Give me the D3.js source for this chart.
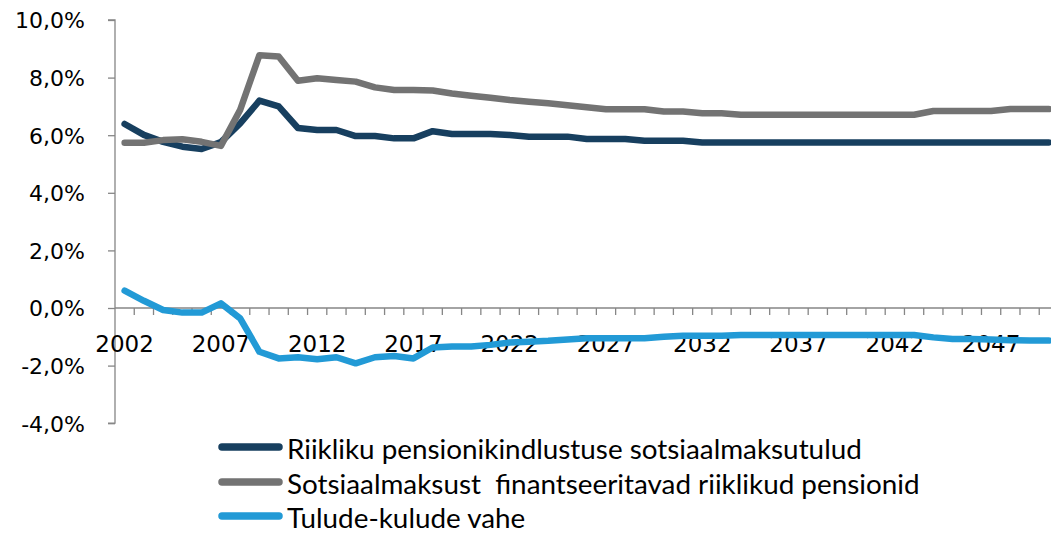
<!DOCTYPE html>
<html>
<head>
<meta charset="utf-8">
<script src="https://cdn.jsdelivr.net/npm/d3@7"></script>
<style>
  html, body { margin: 0; padding: 0; background: #fff; }
  svg { display: block; }
</style>
</head>
<body>
<svg id="chart" width="1051" height="537"></svg>
<script>
// ---- data ----
const years = d3.range(2002, 2051).map(String);
const tickYears = ["2002","2007","2012","2017","2022","2027","2032","2037","2042","2047"];
const yTicks = [-4, -2, 0, 2, 4, 6, 8, 10];

const seriesNames = [
  "Riikliku pensionikindlustuse sotsiaalmaksutulud",
  "Sotsiaalmaksust  finantseeritavad riiklikud pensionid",
  "Tulude-kulude vahe"
];
const seriesColors = ["#173f5f", "#737373", "#229ad6"];

const revenue = [
  6.39, 6.01, 5.77, 5.60, 5.52, 5.76, 6.41, 7.20, 7.00, 6.25,
  6.18, 6.18, 5.97, 5.97, 5.89, 5.89, 6.14, 6.04, 6.04, 6.04,
  6.01, 5.95, 5.95, 5.95, 5.87, 5.87, 5.87, 5.81, 5.81, 5.81,
  5.75, 5.75, 5.75, 5.75, 5.75, 5.75, 5.75, 5.75, 5.75, 5.75,
  5.75, 5.75, 5.75, 5.75, 5.75, 5.75, 5.75, 5.75, 5.75
];
const pensions = [
  5.74, 5.74, 5.83, 5.86, 5.77, 5.63, 6.88, 8.78, 8.73, 7.89,
  7.98, 7.92, 7.86, 7.66, 7.57, 7.57, 7.55, 7.45, 7.37, 7.30,
  7.22, 7.16, 7.11, 7.04, 6.97, 6.90, 6.90, 6.90, 6.82, 6.82,
  6.76, 6.76, 6.71, 6.71, 6.71, 6.71, 6.71, 6.71, 6.71, 6.71,
  6.71, 6.71, 6.84, 6.84, 6.84, 6.84, 6.91, 6.91, 6.91
];
const balance = [
  0.60, 0.25, -0.07, -0.16, -0.16, 0.16, -0.36, -1.52, -1.75, -1.71,
  -1.78, -1.71, -1.92, -1.71, -1.67, -1.75, -1.37, -1.34, -1.34, -1.28,
  -1.20, -1.17, -1.14, -1.09, -1.05, -1.05, -1.05, -1.05, -1.00, -0.96,
  -0.96, -0.96, -0.94, -0.94, -0.94, -0.94, -0.94, -0.94, -0.94, -0.94,
  -0.94, -0.94, -1.02, -1.08, -1.08, -1.09, -1.12, -1.13, -1.13
];
const seriesValues = [revenue, pensions, balance];

// ---- layout ----
const svg = d3.select("#chart");
const axisColor = "#868686";
const bandW = 19.255;
const x0 = 115;
const x = d3.scaleBand().domain(years).range([x0, x0 + bandW * years.length]).paddingInner(0).paddingOuter(0);
const y = d3.scaleLinear().domain([-4, 10]).range([423.2, 20]);
const fmt = v => d3.format(".1f")(v).replace("\u2212", "-").replace(".", ",") + "%";

// y axis
const yAxis = d3.axisLeft(y).tickValues(yTicks).tickSize(7).tickFormat(fmt);
const gy = svg.append("g").attr("transform", `translate(${x0},0)`).call(yAxis);
gy.select(".domain").attr("stroke", axisColor).attr("stroke-width", 1.3).attr("d", `M-7,${y(10)}H0V${y(-4)}H-7`);
gy.selectAll(".tick line").attr("stroke", axisColor).attr("stroke-width", 1.3);
gy.selectAll(".tick text")
  .attr("x", -30)
  .attr("dy", "0.36em")
  .attr("fill", "#000")
  .style("font-family", "'DejaVu Sans', Verdana, sans-serif")
  .style("font-size", "22px");

// x axis at 0%
const gx = svg.append("g").attr("transform", `translate(0,${y(0)})`);
gx.append("line").attr("x1", x0).attr("x2", 1051).attr("y1", 0).attr("y2", 0)
  .attr("stroke", axisColor).attr("stroke-width", 1.3);
gx.selectAll("line.tk").data(years.slice(1)).enter().append("line")
  .attr("class", "tk")
  .attr("x1", d => x(d)).attr("x2", d => x(d))
  .attr("y1", 0).attr("y2", 7)
  .attr("stroke", axisColor).attr("stroke-width", 1.3);
gx.selectAll("text").data(tickYears).enter().append("text")
  .attr("x", d => x(d) + x.bandwidth() / 2)
  .attr("y", 44)
  .attr("text-anchor", "middle")
  .attr("fill", "#000")
  .style("font-family", "'DejaVu Sans', Verdana, sans-serif")
  .style("font-size", "23px")
  .text(d => d);

// lines
const line = d3.line()
  .x((d, i) => x(years[i]) + x.bandwidth() / 2)
  .y(d => y(d));
seriesValues.forEach((vals, k) => {
  svg.append("path")
    .datum(vals)
    .attr("d", line)
    .attr("fill", "none")
    .attr("stroke", seriesColors[k])
    .attr("stroke-width", 6.5)
    .attr("stroke-linejoin", "round")
    .attr("stroke-linecap", "round");
});

// legend
const legendFont = "Lato, 'Open Sans', sans-serif";
const rowsY = [447, 482, 516];
const probe = svg.append("text").style("font-family", legendFont).style("font-size", "100px")
  .style("white-space", "pre").text(seriesNames[0]);
const probeW = probe.node().getComputedTextLength();
probe.remove();
const legendSize = 100 * 575 / probeW;

const lg = svg.append("g");
seriesNames.forEach((name, k) => {
  lg.append("line")
    .attr("x1", 222).attr("x2", 279)
    .attr("y1", rowsY[k]).attr("y2", rowsY[k])
    .attr("stroke", seriesColors[k])
    .attr("stroke-width", 7.5)
    .attr("stroke-linecap", "round");
  lg.append("text")
    .attr("x", 287)
    .attr("y", rowsY[k] + legendSize * 0.42)
    .attr("fill", "#000")
    .style("font-family", legendFont)
    .style("font-size", legendSize + "px")
    .style("white-space", "pre")
    .text(name);
});
</script>
</body>
</html>
